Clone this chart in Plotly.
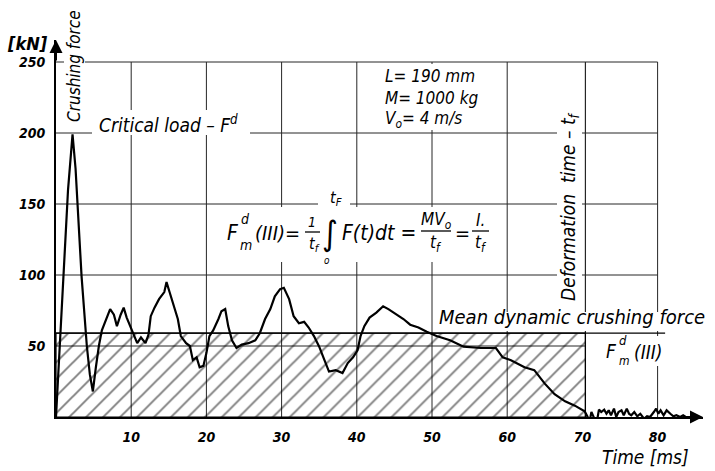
import plotly.graph_objects as go

# ---------------- data ----------------
time_ms = [0, 0.3, 1.0, 1.6, 2.2, 2.6, 3.4, 4.1, 4.5, 4.9, 5.3, 5.7, 6.1, 6.6, 7.2, 7.7,
           8.1, 8.6, 9.0, 9.4, 10.2, 10.8, 11.3, 11.9, 12.3, 12.6, 13.1, 13.7, 14.4, 14.7,
           15.1, 15.5, 16.2, 16.6, 17.3, 17.8, 18.2, 18.7, 19.1, 19.6, 20.0, 20.4, 20.9,
           21.6, 22.0, 22.5, 22.9, 23.4, 24.0, 24.7, 25.6, 26.5, 27.1, 27.8, 28.5, 29.1,
           29.8, 30.3, 31.0, 31.6, 32.3, 33.0, 33.6, 34.3, 35.0, 35.7, 36.3, 37.2, 38.1,
           38.8, 39.5, 40.1, 40.5, 41.0, 41.7, 42.6, 43.5, 44.2, 45.3, 46.2, 47.1, 48.2,
           49.3, 50.6, 52.4, 54.2, 56.5, 58.5, 59.4, 60.5, 62.3, 63.6, 65.0, 66.3, 67.7,
           69.0, 70.3, 70.7,
           70.9, 71.2, 71.5, 71.8, 72.2, 72.5, 72.9, 73.2, 73.5, 73.8, 74.2, 74.5, 74.8,
           75.2, 75.5, 75.9, 76.2, 76.5, 76.9, 77.3, 77.7, 78.2, 78.6, 79.0, 79.5, 79.8,
           80.1, 80.4, 80.8, 81.2, 81.7, 82.1, 82.5, 83.0, 83.4, 83.9, 84.3]
force_kN = [0, 30, 100, 160, 199, 175, 99, 50, 30, 18, 35, 50, 61, 68, 76, 72,
            64, 72, 77, 70, 59, 52, 56, 52, 58, 71, 77, 83, 88, 95,
            88, 81, 69, 57, 52, 50, 40, 42, 35, 36, 45, 57, 61,
            69, 74.5, 76, 64, 54, 48.6, 51, 52, 54, 59, 69, 76, 85,
            90, 91, 83, 71, 66, 67, 63, 57, 49.5, 40, 32, 33, 31,
            38, 42, 47, 57, 64, 70, 73.5, 78, 76, 72, 69, 65, 63,
            60, 57, 54, 49.5, 48.6, 48.6, 42, 40, 35, 33, 23.5, 16, 11,
            8, 4, 0,
            -4.7, 3.5, 0, -7, 5.2, 3.5, 5.2, 2.3, 4.7, 1.2, 5.9, 0, 3.5,
            4.7, 1.2, 5.9, 2.3, 1.2, 3.5, 0.5, 2.3, -1.2, 0.5, 0, 3.5, 5.9,
            2.3, 4.7, 1.2, 4.7, 2.3, 0.5, 1.2, 0, 1.2, -0.5, 0]

x_ticks = [10, 20, 30, 40, 50, 60, 70, 80]
x_tick_labels = ["10", "20", "30", "40", "50", "60", "70", "80"]
y_ticks = [50, 100, 150, 200, 250]
y_tick_labels = ["50", "100", "150", "200", "250"]

MEAN_FORCE = 59      # kN, mean dynamic crushing force
T_F = 70.4           # ms, deformation time
GRID_X = [10, 20, 30, 40, 50, 60, 80]
GRID_Y = [100, 150, 200, 250]

# ---------------- geometry ----------------
W, H = 715, 471
ML, MR, MT, MB = 56, 12, 40, 54
PW, PH = W - ML - MR, H - MT - MB
PX_PER_MS = 7.52
PX_PER_KN = 1.42
XMAX = PW / PX_PER_MS
YMAX = PH / PX_PER_KN


def X(px):
    return (px - ML) / PX_PER_MS


def Y(py):
    return (H - MB - py) / PX_PER_KN


def XP(px):
    return (px - ML) / PW


def YP(py):
    return (H - MB - py) / PH


FONT = "Liberation Sans Narrow, DejaVu Sans Condensed, Liberation Sans, sans-serif"
GRID_COLOR = "#262626"

fig = go.Figure()

# hatched area (mean force x deformation time)
fig.add_trace(go.Scatter(
    x=[0, T_F, T_F, 0, 0], y=[0, 0, MEAN_FORCE, MEAN_FORCE, 0],
    mode="lines", fill="toself",
    fillpattern=dict(shape="/", size=12, solidity=0.16, fgcolor="black",
                     bgcolor="rgba(255,255,255,0)"),
    fillcolor="rgba(255,255,255,0)",
    line=dict(color="black", width=1.2), hoverinfo="skip", showlegend=False))

# mean force line extended to the right
fig.add_trace(go.Scatter(x=[0, 81], y=[MEAN_FORCE, MEAN_FORCE], mode="lines",
                         line=dict(color="black", width=1.3), showlegend=False))

# crushing force curve
fig.add_trace(go.Scatter(x=time_ms, y=force_kN, mode="lines",
                         line=dict(color="black", width=2.2), showlegend=False))

shapes = []
for gx in GRID_X:
    shapes.append(dict(type="line", xref="x", yref="y", x0=gx, x1=gx, y0=0, y1=250,
                       line=dict(color=GRID_COLOR, width=1), layer="below"))
for gy in GRID_Y:
    shapes.append(dict(type="line", xref="x", yref="y", x0=0, x1=80, y0=gy, y1=gy,
                       line=dict(color=GRID_COLOR, width=1), layer="below"))
shapes.append(dict(type="line", xref="x", yref="y", x0=0, x1=T_F, y0=50, y1=50,
                   line=dict(color=GRID_COLOR, width=1), layer="below"))
# deformation time line
shapes.append(dict(type="line", xref="x", yref="y", x0=T_F, x1=T_F, y0=0, y1=250,
                   line=dict(color=GRID_COLOR, width=1.2), layer="below"))

# white masks behind texts (gridlines interrupted)
masks = [(64, 2, 85, 132), (92, 110, 250, 135), (378, 64, 478, 130),
         (222, 207, 497, 262), (318, 190, 350, 208), (557, 104, 582, 312),
         (433, 312, 708, 331), (603, 336, 677, 366)]
for (a, b, c, d) in masks:
    shapes.append(dict(type="rect", xref="x", yref="y", x0=X(a), x1=X(c), y0=Y(d), y1=Y(b),
                       fillcolor="white", line=dict(width=0), layer="below"))

# fraction bars
for (a, c, py) in [(305, 320, 232), (421, 451, 231), (472, 489, 231)]:
    shapes.append(dict(type="line", xref="x", yref="y", x0=X(a), x1=X(c), y0=Y(py), y1=Y(py),
                       line=dict(color="black", width=1.3), layer="below"))

ann = []


def txt(s, px, py, size=17, xanchor="center", yanchor="middle", angle=0, weight="normal"):
    ann.append(dict(text=s, x=XP(px), y=YP(py), xref="paper", yref="paper", showarrow=False,
                    xanchor=xanchor, yanchor=yanchor, textangle=angle,
                    font=dict(family=FONT, size=size, color="black", style="italic",
                              weight=weight)))


txt("[kN]", 27, 43, size=18, weight="bold")
txt("Crushing force", 74, 66, size=17, angle=-90)
txt("Critical load – F<sup>d</sup>", 97, 124, size=19, xanchor="left")
txt("L= 190 mm", 383, 76, size=17, xanchor="left")
txt("M= 1000 kg", 383, 98, size=17, xanchor="left")
txt("V<sub>o</sub>= 4 m/s", 383, 120, size=17, xanchor="left")

# formula
txt("F", 233, 233, size=21)
txt("d", 245, 219, size=14)
txt("m", 246, 245, size=14)
txt("(III)=", 253, 233, size=20, xanchor="left")
txt("1", 312, 222, size=14)
txt("t<sub>f</sub>", 314, 244, size=16)
txt("∫", 330, 233, size=34)
txt("o", 327, 260, size=10)
txt("t<sub>F</sub>", 336, 198, size=16)
txt("F(t)dt =", 340, 233, size=21, xanchor="left")
txt("MV<sub>o</sub>", 436, 220, size=17)
txt("t<sub>f</sub>", 436, 243, size=17)
txt("=", 462, 233, size=20)
txt("I.", 480, 220, size=17)
txt("t<sub>f</sub>", 481, 243, size=17)

txt("Deformation  time – t<sub>f</sub>", 569, 207, size=19, angle=-90)
txt("Mean dynamic crushing force", 437, 331, size=20, xanchor="left", yanchor="bottom")
txt("F", 611, 351, size=19)
txt("d", 623, 340, size=13)
txt("m", 624, 361, size=12)
txt("(III)", 632, 352, size=19, xanchor="left")
txt("Time [ms]", 645, 457, size=19)

# axis arrowheads
ann.append(dict(x=0, y=YMAX, xref="x", yref="y", ax=0, ay=22, text="", showarrow=True,
                arrowhead=2, arrowsize=1.3, arrowwidth=2, arrowcolor="black"))
ann.append(dict(x=XMAX, y=0, xref="x", yref="y", ax=-22, ay=0, text="", showarrow=True,
                arrowhead=2, arrowsize=1.3, arrowwidth=2, arrowcolor="black"))

tickfont = dict(family=FONT, size=14, color="black", style="italic", weight="bold")
fig.update_layout(
    width=W, height=H, margin=dict(l=ML, r=MR, t=MT, b=MB),
    paper_bgcolor="white", plot_bgcolor="white", showlegend=False,
    shapes=shapes, annotations=ann,
    xaxis=dict(range=[0, XMAX], showgrid=False, zeroline=False, showline=True,
               linecolor="black", linewidth=2, tickvals=x_ticks, ticktext=x_tick_labels,
               ticks="outside", ticklen=6, tickcolor="rgba(0,0,0,0)", tickfont=tickfont),
    yaxis=dict(range=[0, YMAX], showgrid=False, zeroline=False, showline=True,
               linecolor="black", linewidth=2, tickvals=y_ticks, ticktext=y_tick_labels,
               ticks="outside", ticklen=6, tickcolor="rgba(0,0,0,0)", tickfont=tickfont),
)

fig.write_html("out.html")
